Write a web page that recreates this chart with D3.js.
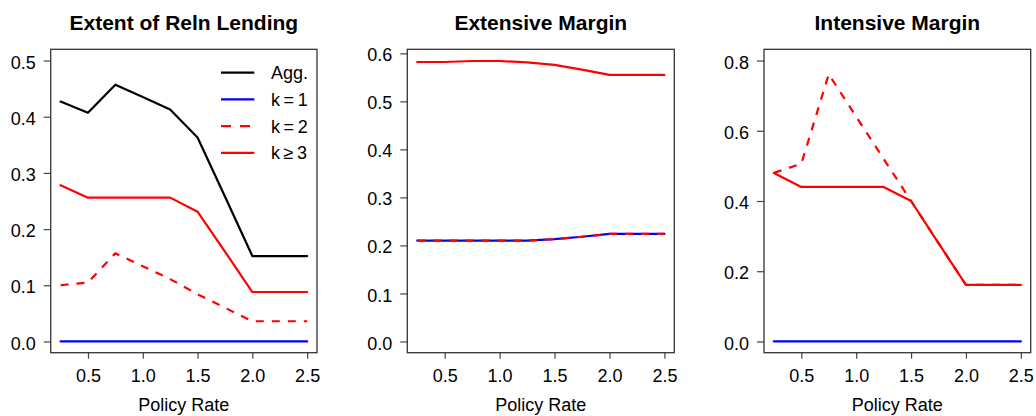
<!DOCTYPE html>
<html>
<head>
<meta charset="utf-8">
<script src="https://cdn.jsdelivr.net/npm/d3@7"></script>
<style>
  html, body { margin: 0; padding: 0; background: #fff; }
  svg text { font-family: "Liberation Sans", Arial, sans-serif; fill: #000; }
</style>
</head>
<body>
<svg id="chart" width="1036" height="416"></svg>
<script>
// Policy rate grid (x axis)
const policyRate = [0.25, 0.5, 0.75, 1.0, 1.25, 1.5, 1.75, 2.0, 2.25, 2.5];
const xTicks = [0.5, 1.0, 1.5, 2.0, 2.5];

// Extent of relationship lending
const extentAgg = [0.427, 0.407, 0.457, 0.435, 0.413, 0.363, 0.258, 0.152, 0.152, 0.152];
const extentK1  = [0, 0, 0, 0, 0, 0, 0, 0, 0, 0];
const extentK2  = [0.100, 0.105, 0.157, 0.134, 0.111, 0.084, 0.060, 0.036, 0.036, 0.036];
const extentK3  = [0.278, 0.256, 0.256, 0.256, 0.256, 0.231, 0.160, 0.088, 0.088, 0.088];

// Extensive margin
const extensiveK1 = [0.210, 0.210, 0.210, 0.210, 0.210, 0.213, 0.218, 0.224, 0.224, 0.224];
const extensiveK2 = [0.210, 0.210, 0.210, 0.210, 0.210, 0.213, 0.218, 0.224, 0.224, 0.224];
const extensiveK3 = [0.582, 0.582, 0.584, 0.584, 0.581, 0.576, 0.566, 0.555, 0.555, 0.555];

// Intensive margin
const intensiveK1 = [0, 0, 0, 0, 0, 0, 0, 0, 0, 0];
const intensiveK2 = [0.480, 0.506, 0.761, 0.640, 0.520, 0.400, 0.280, 0.161, 0.161, 0.161];
const intensiveK3 = [0.480, 0.440, 0.440, 0.440, 0.440, 0.400, 0.280, 0.161, 0.161, 0.161];

const panelTitles = ["Extent of Reln Lending", "Extensive Margin", "Intensive Margin"];
const legendLabels = ["Agg.", "k\u2009=\u20091", "k\u2009=\u20092", "k\u2009\u2265\u20093"];
const xLabel = "Policy Rate";

// Series styling
const styles = {
  agg: { color: "#000000", dash: null },
  k1:  { color: "#0000ff", dash: null },
  k2:  { color: "#ff0000", dash: "8,8" },
  k3:  { color: "#ff0000", dash: null }
};

const panels = [
  { title: panelTitles[0], ylim: [0, 0.5], yTicks: [0, 0.1, 0.2, 0.3, 0.4, 0.5],
    series: [["agg", extentAgg], ["k1", extentK1], ["k2", extentK2], ["k3", extentK3]],
    box: [50.7, 317], legend: true },
  { title: panelTitles[1], ylim: [0, 0.585], yTicks: [0, 0.1, 0.2, 0.3, 0.4, 0.5, 0.6],
    series: [["k1", extensiveK1], ["k2", extensiveK2], ["k3", extensiveK3]],
    box: [407.3, 674.3], legend: false },
  { title: panelTitles[2], ylim: [0, 0.8], yTicks: [0, 0.2, 0.4, 0.6, 0.8],
    series: [["k1", intensiveK1], ["k2", intensiveK2], ["k3", intensiveK3]],
    box: [764, 1030.7], legend: false }
];

const plotTop = 49.3, plotBottom = 352.7;
const fontSize = 18;
const svg = d3.select("#chart");

// R-style 4% padding around the axis limits
function padded(lim) {
  const d = (lim[1] - lim[0]) * 0.04;
  return [lim[0] - d, lim[1] + d];
}
const xlim = padded([d3.min(policyRate), d3.max(policyRate)]);

panels.forEach(p => {
  const g = svg.append("g");
  const x = d3.scaleLinear().domain(xlim).range(p.box);
  const y = d3.scaleLinear().domain(padded(p.ylim)).range([plotBottom, plotTop]);
  const cx = (p.box[0] + p.box[1]) / 2;

  // Title
  g.append("text")
    .attr("x", cx).attr("y", 29.5)
    .attr("text-anchor", "middle")
    .style("font-size", "21px").style("font-weight", "bold")
    .text(p.title);

  // Y axis
  const ya = g.append("g").attr("transform", `translate(${p.box[0]},0)`)
    .call(d3.axisLeft(y).tickValues(p.yTicks).tickFormat(d3.format(".1f"))
      .tickSize(7).tickPadding(8));
  ya.select(".domain").remove();
  ya.selectAll(".tick line").attr("stroke", "#444").attr("stroke-width", 1.2);
  ya.selectAll(".tick text").attr("dy", "0.42em")
    .style("font-size", fontSize + "px").attr("fill", "#000");

  // X axis
  const xa = g.append("g").attr("transform", `translate(0,${plotBottom})`)
    .call(d3.axisBottom(x).tickValues(xTicks).tickFormat(d3.format(".1f"))
      .tickSize(6).tickPadding(10.5));
  xa.select(".domain").remove();
  xa.selectAll(".tick line").attr("stroke", "#444").attr("stroke-width", 1.2);
  xa.selectAll(".tick text").style("font-size", fontSize + "px").attr("fill", "#000");

  // X axis title
  g.append("text")
    .attr("x", cx).attr("y", 411)
    .attr("text-anchor", "middle")
    .style("font-size", fontSize + "px").attr("fill", "#222")
    .text(xLabel);

  // Series lines
  const line = d3.line().x((d, i) => x(policyRate[i])).y(d => y(d));
  p.series.forEach(([key, vals]) => {
    const s = styles[key];
    g.append("path")
      .datum(vals)
      .attr("d", line)
      .attr("fill", "none")
      .attr("stroke", s.color)
      .attr("stroke-width", 2.2)
      .attr("stroke-linejoin", "round")
      .attr("stroke-linecap", s.dash ? "butt" : "round")
      .attr("stroke-dasharray", s.dash);
  });

  // Plot box
  g.append("rect")
    .attr("x", p.box[0]).attr("y", plotTop)
    .attr("width", p.box[1] - p.box[0]).attr("height", plotBottom - plotTop)
    .attr("fill", "none").attr("stroke", "#333").attr("stroke-width", 1.3);

  // Legend
  if (p.legend) {
    const keys = ["agg", "k1", "k2", "k3"];
    const lg = g.append("g");
    keys.forEach((k, i) => {
      const ly = 72.7 + i * 26.7;
      const s = styles[k];
      lg.append("line")
        .attr("x1", 221).attr("x2", 254.3).attr("y1", ly).attr("y2", ly)
        .attr("stroke", s.color).attr("stroke-width", 2.2)
        .attr("stroke-dasharray", s.dash ? "10,9" : null);
      lg.append("text")
        .attr("x", 271).attr("y", ly + 6.4)
        .style("font-size", fontSize + "px").attr("fill", "#222")
        .text(legendLabels[i]);
    });
  }
});
</script>
</body>
</html>
